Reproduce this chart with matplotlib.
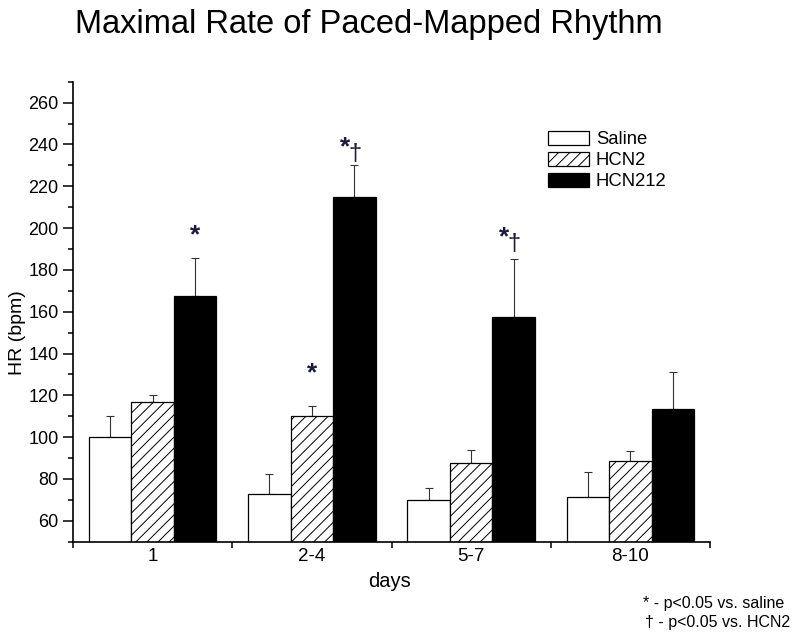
import numpy as np
from matplotlib import pyplot as plt
from matplotlib.ticker import MultipleLocator, FixedLocator

# values
days = ['1', '2-4', '5-7', '8-10']
groups = ['Saline', 'HCN2', 'HCN212']
saline = [100, 73, 70, 71.5]
saline_err = [10, 9.5, 5.5, 12]
hcn2 = [117, 110, 87.5, 88.5]
hcn2_err = [3, 5, 6.5, 5]
hcn212 = [167.5, 215, 157.5, 113.5]
hcn212_err = [18, 15, 27.5, 17.5]

# significance marks: day index, group, label, height of the mark (bpm)
sig_day = [0, 1, 1, 2]
sig_group = [2, 1, 2, 2]
sig_text = ['*', '*', '*\u2020', '*\u2020']
sig_y = [201, 135, 242, 199]

plt.rcParams['font.family'] = ['Liberation Sans', 'DejaVu Sans']
plt.rcParams['hatch.linewidth'] = 0.7
plt.rcParams['xtick.labelsize'] = 13.5
plt.rcParams['ytick.labelsize'] = 13

fig = plt.figure(figsize=(8, 6.41), dpi=100)
ax = fig.add_axes([0.09125, 0.1549, 0.79625, 0.7176])

x = np.arange(len(days))
w = 0.267
means = [saline, hcn2, hcn212]
errs = [saline_err, hcn2_err, hcn212_err]
faces = ['white', 'white', 'black']
hatches = [None, '///', None]

for i in range(3):
    pos = x + (i - 1) * w
    ax.bar(pos, means[i], w, color=faces[i], edgecolor='black', linewidth=0.9,
           hatch=hatches[i], label=groups[i], zorder=2)
    ax.errorbar(pos, means[i], yerr=[np.zeros(4), errs[i]], fmt='none',
                ecolor='#333333', elinewidth=0.8, capsize=3, capthick=0.8, zorder=1)

star_col = '#1b1b40'
for d, g, t, yv in zip(sig_day, sig_group, sig_text, sig_y):
    xc = x[d] + (g - 1) * w
    if t == '*':
        ax.annotate('*', xy=(xc, yv), xytext=(0, -11.5), textcoords='offset points',
                    ha='center', va='baseline', fontsize=19, fontweight='bold', color=star_col)
    else:
        ax.annotate('*', xy=(xc, yv), xytext=(-7, -10), textcoords='offset points',
                    ha='center', va='baseline', fontsize=19, fontweight='bold', color=star_col)
        ax.annotate('\u2020', xy=(xc, yv), xytext=(0.5, -14), textcoords='offset points',
                    ha='center', va='baseline', fontsize=17, color=star_col)

ax.set_xlim(-0.5, 3.5)
ax.set_ylim(50, 270)
ax.yaxis.set_major_locator(FixedLocator(np.arange(60, 261, 20)))
ax.yaxis.set_minor_locator(MultipleLocator(10))
ax.xaxis.set_major_locator(FixedLocator([-0.5, 0.5, 1.5, 2.5, 3.5]))
ax.xaxis.set_minor_locator(FixedLocator(x))
ax.set_xticklabels([], minor=False)
ax.set_xticklabels(days, minor=True, fontsize=13.5)
ax.tick_params(axis='x', which='major', direction='out', length=4, width=1.1)
ax.tick_params(axis='x', which='minor', length=0, pad=4.5)
ax.tick_params(axis='y', which='major', direction='out', length=7, width=1.1, pad=3.4)
ax.tick_params(axis='y', which='minor', direction='out', length=3.6, width=1.1)

for s in ['top', 'right']:
    ax.spines[s].set_visible(False)
for s in ['left', 'bottom']:
    ax.spines[s].set_linewidth(1.2)

leg = ax.legend(loc='upper left', bbox_to_anchor=(547.7 / 800, 1 - 131 / 641),
                bbox_transform=fig.transFigure, frameon=False, fontsize=13.3,
                handlelength=2.25, handleheight=0.76, labelspacing=0.2,
                handletextpad=0.36, borderpad=0, borderaxespad=0)

fig.text(75 / 800, 1 - 33 / 641, 'Maximal Rate of Paced-Mapped Rhythm',
         fontsize=23.5, ha='left', va='baseline')
fig.text(17.5 / 800, 1 - 333 / 641, 'HR (bpm)', fontsize=14,
         rotation=90, ha='center', va='center')
fig.text(389.5 / 800, 1 - 587 / 641, 'days', fontsize=14.5, ha='center', va='baseline')
fig.text(643 / 800, 1 - 608 / 641, '* - p<0.05 vs. saline', fontsize=11.5,
         ha='left', va='baseline')
fig.text(645 / 800, 1 - 627 / 641, '\u2020 - p<0.05 vs. HCN2', fontsize=11.5,
         ha='left', va='baseline')

fig.savefig('out.png', dpi=100)
